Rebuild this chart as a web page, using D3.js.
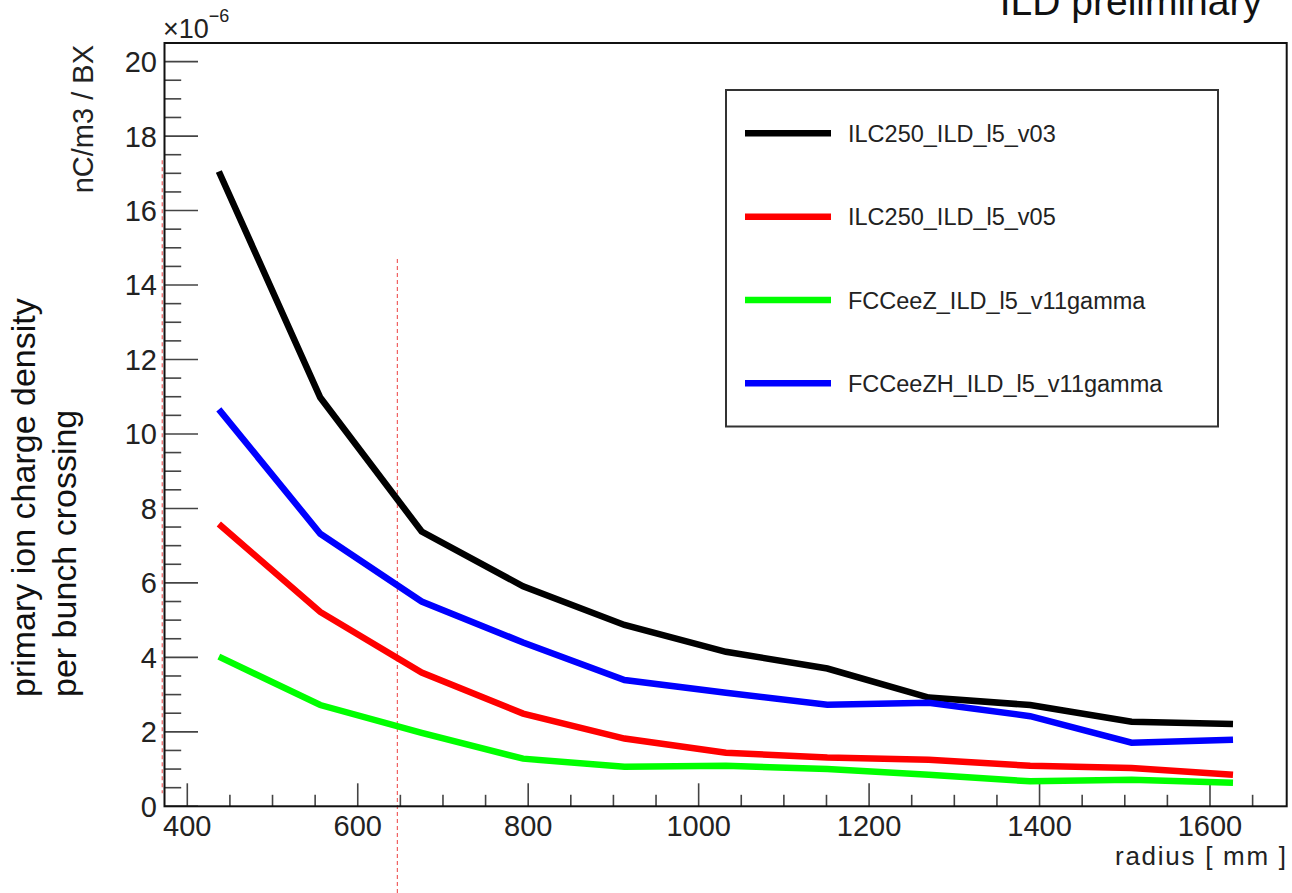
<!DOCTYPE html>
<html>
<head>
<meta charset="utf-8">
<script src="https://cdn.jsdelivr.net/npm/d3@7/dist/d3.min.js"></script>
<style>
  html, body { margin: 0; padding: 0; background: #fff; }
  svg { display: block; font-family: "Liberation Sans", Arial, Helvetica, sans-serif; }
</style>
</head>
<body>
<svg id="chart" width="1292" height="893"></svg>
<script>
// ---- data ----
const radius = [437, 556, 675, 794, 913, 1032, 1151, 1270, 1389, 1508, 1627];
const seriesNames = ["ILC250_ILD_l5_v03", "ILC250_ILD_l5_v05", "FCCeeZ_ILD_l5_v11gamma", "FCCeeZH_ILD_l5_v11gamma"];
const seriesColors = ["#000000", "#ff0000", "#00ff00", "#0000ff"];
const ilc250v03 = [17.05, 10.98, 7.38, 5.91, 4.87, 4.15, 3.70, 2.92, 2.72, 2.27, 2.21];
const ilc250v05 = [7.58, 5.22, 3.59, 2.49, 1.82, 1.44, 1.31, 1.25, 1.09, 1.03, 0.85];
const fccZ      = [4.02, 2.72, 1.97, 1.28, 1.06, 1.09, 1.00, 0.85, 0.67, 0.71, 0.63];
const fccZH     = [10.66, 7.32, 5.50, 4.40, 3.39, 3.05, 2.73, 2.78, 2.42, 1.71, 1.79];
const seriesValues = [ilc250v03, ilc250v05, fccZ, fccZH];
const xTicks = [400, 600, 800, 1000, 1200, 1400, 1600];
const yTicks = [0, 2, 4, 6, 8, 10, 12, 14, 16, 18, 20];
const xDomain = [373.25, 1690];
const yDomain = [0, 20.5];
// dashed reference lines (data coordinates)
const refLines = [
  { x: 646.5, y0: 14.7, y1: -2.35 },
  { x: 370.6, y0: 17.35, y1: 0.35 }
];

// ---- layout ----
const svg = d3.select("#chart");
const L = 164.5, T = 43, R = 1286.7, B = 806.3;
const x = d3.scaleLinear().domain(xDomain).range([L, R]);
const y = d3.scaleLinear().domain(yDomain).range([B, T]);

// reference dashed lines
svg.selectAll("line.ref").data(refLines).enter().append("line")
  .attr("class", "ref")
  .attr("x1", d => x(d.x)).attr("x2", d => x(d.x))
  .attr("y1", d => y(d.y0)).attr("y2", d => y(d.y1))
  .attr("stroke", "#f06060").attr("stroke-width", 1.2)
  .attr("stroke-dasharray", "4,3");

// ---- axes ----
const tickColor = "#444";
const xMinor = d3.range(400, 1700, 50).filter(v => v >= xDomain[0] && v <= xDomain[1]);
const xAxisG = svg.append("g");
xAxisG.selectAll("line").data(xMinor).enter().append("line")
  .attr("x1", d => x(d)).attr("x2", d => x(d))
  .attr("y1", B).attr("y2", d => B - (d % 200 === 0 ? 23 : 11.5))
  .attr("stroke", tickColor).attr("stroke-width", 1.6);
xAxisG.selectAll("text").data(xTicks).enter().append("text")
  .attr("x", d => x(d)).attr("y", 836)
  .attr("text-anchor", "middle")
  .attr("font-size", 29).attr("fill", "#222")
  .text(d => d);

const yMinor = d3.range(0, 20.51, 0.5);
const yAxisG = svg.append("g");
yAxisG.selectAll("line").data(yMinor).enter().append("line")
  .attr("x1", L).attr("x2", d => L + (Math.abs(d % 2) < 1e-9 ? 33.5 : 16.7))
  .attr("y1", d => y(d)).attr("y2", d => y(d))
  .attr("stroke", tickColor).attr("stroke-width", 1.6);
yAxisG.selectAll("text").data(yTicks).enter().append("text")
  .attr("x", 157).attr("y", d => y(d))
  .attr("dy", "0.36em")
  .attr("text-anchor", "end")
  .attr("font-size", 29).attr("fill", "#222")
  .text(d => d);

// ---- series ----
const line = d3.line().x((d, i) => x(radius[i])).y(d => y(d));
svg.selectAll("path.series").data(seriesValues).enter().append("path")
  .attr("class", "series")
  .attr("d", d => line(d))
  .attr("fill", "none")
  .attr("stroke", (d, i) => seriesColors[i])
  .attr("stroke-width", 6.5)
  .attr("stroke-linejoin", "miter");

// frame
svg.append("rect")
  .attr("x", L).attr("y", T).attr("width", R - L).attr("height", B - T)
  .attr("fill", "none").attr("stroke", "#111").attr("stroke-width", 2);

// ---- legend ----
const lg = svg.append("g");
lg.append("rect")
  .attr("x", 726).attr("y", 90).attr("width", 492).attr("height", 336.5)
  .attr("fill", "#fff").attr("stroke", "#333").attr("stroke-width", 2);
const rowY = i => 133.3 + i * 83.35;
lg.selectAll("line").data(seriesNames).enter().append("line")
  .attr("x1", 745).attr("x2", 831)
  .attr("y1", (d, i) => rowY(i)).attr("y2", (d, i) => rowY(i))
  .attr("stroke", (d, i) => seriesColors[i]).attr("stroke-width", 6.5);
lg.selectAll("text").data(seriesNames).enter().append("text")
  .attr("x", 848).attr("y", (d, i) => rowY(i) + 8.5)
  .attr("font-size", 23.5).attr("fill", "#222")
  .text(d => d);

// ---- titles ----
svg.append("text")
  .attr("x", 1286).attr("y", 865).attr("text-anchor", "end")
  .attr("font-size", 26).attr("fill", "#222")
  .attr("textLength", 171).attr("lengthAdjust", "spacing")
  .text("radius [ mm ]");

svg.append("text")
  .attr("transform", "translate(93,45) rotate(-90)")
  .attr("text-anchor", "end")
  .attr("font-size", 29).attr("fill", "#222")
  .text("nC/m3 / BX");

const yt = svg.append("text")
  .attr("transform", "translate(0,697) rotate(-90)")
  .attr("font-size", 34).attr("fill", "#111");
yt.append("tspan").attr("x", 0).attr("y", 35).text("primary ion charge density");
yt.append("tspan").attr("x", 0).attr("y", 76).text("per bunch crossing");

const ex = svg.append("text").attr("x", 163).attr("y", 38)
  .attr("font-size", 27).attr("fill", "#222");
ex.append("tspan").text("\u00d710");
ex.append("tspan").attr("dy", -16).attr("font-size", 18).text("\u22126");

svg.append("text")
  .attr("x", 1262).attr("y", 15).attr("text-anchor", "end")
  .attr("font-size", 39).attr("fill", "#111")
  .text("ILD preliminary");
</script>
</body>
</html>
